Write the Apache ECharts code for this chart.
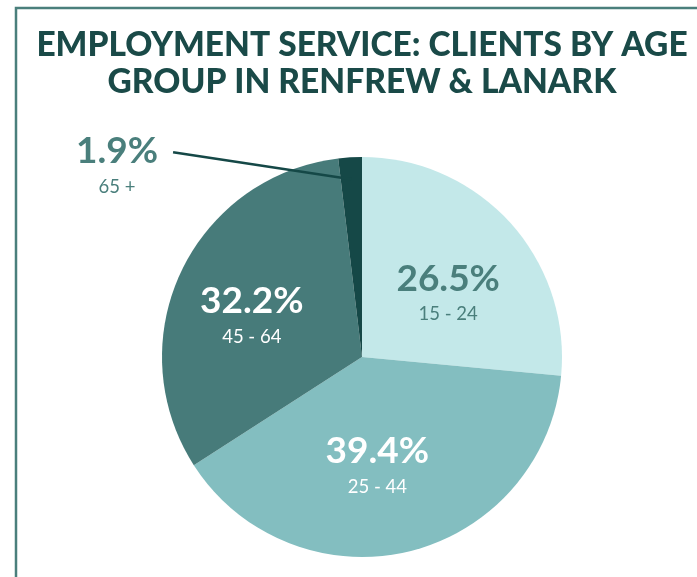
<!DOCTYPE html>
<html>
<head>
<meta charset="utf-8">
<script src="https://cdn.jsdelivr.net/npm/echarts@6/dist/echarts.min.js"></script>
<style>
  html, body { margin: 0; padding: 0; background: #ffffff; }
  #chart { width: 697px; height: 577px; }
</style>
</head>
<body>
<div id="chart"></div>
<script>
// Age groups and their share of employment service clients
const ageGroups = ['15 - 24', '25 - 44', '45 - 64', '65 +'];
const shares = [26.5, 39.4, 32.2, 1.9];
const sliceColors = ['#c3e8e9', '#83bec0', '#477b7a', '#154847'];
const titleLines = ['EMPLOYMENT SERVICE: CLIENTS BY AGE', 'GROUP IN RENFREW & LANARK'];

const FONT = 'Lato, "Noto Sans", sans-serif';
const teal = '#4a7f7c';

// Per-slice label look: colour of the text and a small nudge inside the slice
const labelColors = [teal, '#ffffff', '#ffffff', teal];
const labelNudges = [[10, 3], [-9, 6], [-17, 0], [0, 0]];
const OUTSIDE = 3; // the thin slice is labelled outside with a leader line

function richFor(color) {
  return {
    pct: { fontFamily: FONT, fontWeight: 'bold', fontSize: 37, color: color, align: 'center', lineHeight: 47 },
    grp: { fontFamily: FONT, fontWeight: 400, fontSize: 18.5, color: color, align: 'center', lineHeight: 24 }
  };
}
const fmt = p => '{pct|' + p.value.toFixed(1) + '%}\n{grp|' + p.name + '}';

// Main pie: filled slices with inside labels
const mainData = ageGroups.map((name, i) => ({
  name: name,
  value: shares[i],
  itemStyle: { color: sliceColors[i] },
  label: { show: i !== OUTSIDE, offset: labelNudges[i], rich: richFor(labelColors[i]) }
}));

// Overlay pie: same values, no fill, carries the outside label so its leader sits above the slices
const overlayData = ageGroups.map((name, i) => ({
  name: name,
  value: shares[i],
  itemStyle: { color: 'rgba(0,0,0,0)' },
  label: { show: i === OUTSIDE, position: 'outside', rich: richFor(labelColors[i]) },
  labelLine: { show: i === OUTSIDE, length: 10, length2: 150, lineStyle: { color: '#154847', width: 2.5 } }
}));

const chart = echarts.init(document.getElementById('chart'), null, { renderer: 'canvas' });

const pieBase = {
  type: 'pie',
  center: [362, 357],
  radius: 200,
  startAngle: 90,
  clockwise: true,
  silent: true,
  emphasis: { disabled: true },
  label: { position: 'inside', formatter: fmt }
};

chart.setOption({
  animation: false,
  backgroundColor: '#ffffff',
  title: {
    text: titleLines.join('\n'),
    left: 357,
    textAlign: 'center',
    top: 22,
    textStyle: {
      fontFamily: FONT,
      fontWeight: 900,
      fontSize: 33.5,
      lineHeight: 37,
      color: '#1a4a48'
    }
  },
  graphic: [{
    type: 'rect',
    shape: { x: 16, y: 8, width: 720, height: 620 },
    style: { fill: 'none', stroke: teal, lineWidth: 2.5 },
    silent: true
  }],
  series: [
    Object.assign({}, pieBase, { data: mainData, labelLine: { show: false }, z: 2 }),
    Object.assign({}, pieBase, {
      data: overlayData,
      z: 3,
      labelLayout: function (p) {
        if (p.dataIndex !== OUTSIDE || !p.labelLinePoints) return {};
        const a = p.labelLinePoints[0];
        const b = p.labelLinePoints[1];
        const len = Math.hypot(b[0] - a[0], b[1] - a[1]) || 1;
        const dir = [(b[0] - a[0]) / len, (b[1] - a[1]) / len];
        // start the leader a little inside the slice, end it beside the value text
        const inner = [a[0] - dir[0] * 22, a[1] - dir[1] * 22];
        return {
          x: a[0] - 233,
          y: a[1] + 6,
          align: 'center',
          verticalAlign: 'middle',
          labelLinePoints: [inner, [a[0] - 177, a[1] - 5]]
        };
      }
    })
  ]
});
</script>
</body>
</html>
